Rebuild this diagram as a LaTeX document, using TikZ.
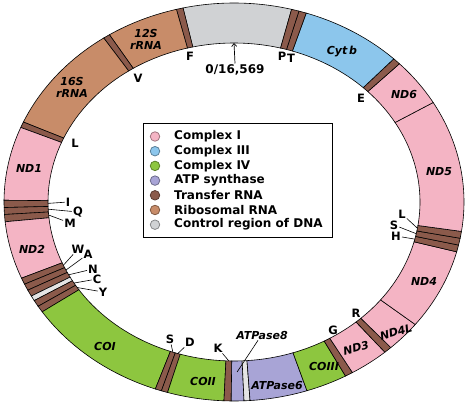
\documentclass[tikz,border=0pt]{standalone}
\usepackage{fontspec}
\setmainfont{DejaVu Sans}
\usetikzlibrary{arrows.meta}
\definecolor{cpink}{RGB}{244,180,196}
\definecolor{cblue}{RGB}{140,198,236}
\definecolor{cgreen}{RGB}{141,198,63}
\definecolor{cpurp}{RGB}{168,164,214}
\definecolor{ctrna}{RGB}{139,90,75}
\definecolor{crrna}{RGB}{200,140,105}
\definecolor{cgray}{RGB}{208,210,212}
\definecolor{clight}{RGB}{228,228,228}
\begin{document}
\begin{tikzpicture}[x=1pt,y=1pt,
  ringlbl/.style={font=\fontsize{11}{12}\selectfont\bfseries\itshape, inner sep=0pt, align=center},
  outlbl/.style={font=\fontsize{11.5}{12}\selectfont\bfseries, inner sep=1pt},
  leader/.style={line width=0.6pt, draw=black},
  legtxt/.style={font=\fontsize{12}{14}\selectfont\bfseries, anchor=west, inner sep=0pt},
  legdot/.style={circle, minimum size=9.5pt, inner sep=0pt, line width=0.8pt},
  segline/.style={draw=black, line width=0.6pt}
]
\useasboundingbox (0,0) rectangle (468,407);
\fill[white] (0,0) rectangle (468,407);
% ring segments: start/end parametric angle, colour
\foreach \s/\e/\c in {
  75.5/102.8/cgray, 102.8/104.5/ctrna, 104.5/122.8/crrna, 122.8/124.5/ctrna,
  124.5/156.3/crrna, 156.3/158.0/ctrna, 158.0/179.5/cpink, 179.5/181.6/ctrna,
  181.6/183.6/ctrna, 183.6/185.7/ctrna, 185.7/202.5/cpink, 202.5/204.4/ctrna,
  204.4/206.3/ctrna, 206.3/208.2/ctrna, 208.2/209.7/clight, 209.7/211.6/ctrna,
  211.6/213.5/ctrna, 213.5/250/cgreen, 250/251.6/ctrna, 251.6/253.2/ctrna,
  253.2/267.5/cgreen, 267.5/269.3/ctrna, 269.3/272.5/cpurp, 272.5/274/clight,
  274/288.5/cpurp, 288.5/299/cgreen, 299/301/ctrna, 301/311/cpink,
  311/313/ctrna, 313/322/cpink, 322/345.5/cpink, 345.5/347.5/ctrna,
  347.5/349.5/ctrna, 349.5/351.5/ctrna, 351.5/390/cpink, 390/404/cpink,
  404/406/ctrna, 406/431.7/cblue, 431.7/433.6/ctrna, 433.6/435.5/ctrna}
{
  \filldraw[fill=\c, segline]
    ({234+230*cos(\s)},{205+199*sin(\s)})
    arc[start angle=\s, end angle=\e, x radius=230, y radius=199]
    -- ({234+186*cos(\e)},{205+159*sin(\e)})
    arc[start angle=\e, end angle=\s, x radius=186, y radius=159]
    -- cycle;
}
% ring labels
\node[ringlbl] (r12s) at (146,368) {12S\\rRNA};
\node[ringlbl] (r16s) at (72,319.5) {16S\\rRNA};
\node[ringlbl] (nd1) at (29,239) {ND1};
\node[ringlbl] (nd2) at (32,158) {ND2};
\node[ringlbl] (coi) at (105,61) {COI};
\node[ringlbl] (coii) at (203,26) {COII};
\node[ringlbl] (atp6) at (277,21) {ATPase6};
\node[ringlbl] (coiii) at (324,41) {COIII};
\node[ringlbl, rotate=14] (nd3) at (356,59) {ND3};
\node[ringlbl, rotate=16] (nd4l) at (396,75) {ND4L};
\node[ringlbl] (nd4) at (424,126) {ND4};
\node[ringlbl] (nd5) at (439,235) {ND5};
\node[ringlbl] (nd6) at (404,312) {ND6};
\node[ringlbl] (cytb) at (342,355) {Cyt\,b};
% outer single-letter labels
\node[outlbl] (tF) at (190,351) {F};
\node[outlbl] (tV) at (138,329) {V};
\node[outlbl] (tL1) at (75,264) {L};
\node[outlbl] (tP) at (282,351) {P};
\node[outlbl] (tT) at (291,349) {T};
\node[outlbl] (tE) at (361,309) {E};
\node[outlbl] (tI) at (68,205) {I};
\node[outlbl] (tQ) at (78,195) {Q};
\node[outlbl] (tM) at (70,184) {M};
\node[outlbl] (tW) at (78,158) {W};
\node[outlbl] (tA) at (88,153) {A};
\node[outlbl] (tN) at (93,138) {N};
\node[outlbl] (tC) at (97,128) {C};
\node[outlbl] (tY) at (103,115) {Y};
\node[outlbl] (tS1) at (170,68) {S};
\node[outlbl] (tD) at (190,65) {D};
\node[outlbl] (tK) at (218,59) {K};
\node[outlbl] (tG) at (333,77) {G};
\node[outlbl] (tR) at (356,94) {R};
\node[outlbl] (tL2) at (402,193) {L};
\node[outlbl] (tS2) at (394,182) {S};
\node[outlbl] (tH) at (396,171) {H};
\node[ringlbl, inner sep=1pt] (atp8) at (262,72) {ATPase8};
\node[font=\fontsize{12}{13}\selectfont\bfseries, inner sep=1pt] (zero) at (235,337) {0/16,569};
% band points on the inner edge
\foreach \n/\a in {pI/180.5, pQ/182.6, pM/184.7, pW/203.45, pA/205.35, pN/207.25,
  pC/210.65, pY/212.55, pS1/250.8, pD/252.4, pK/268.4, pH/346.5, pS2/348.5, pL2/350.5, ptop/90}
  \coordinate (\n) at ({234+186*cos(\a)},{205+159*sin(\a)});
\coordinate (p8) at ({234+198*cos(270.9)},{205+170*sin(270.9)});
% leaders
\foreach \l/\p in {tI/pI, tQ/pQ, tM/pM, tW/pW, tA/pA, tN/pN, tC/pC, tY/pY,
  tS1/pS1, tD/pD, tK/pK, tH/pH, tS2/pS2, tL2/pL2}
  \draw[leader] (\l) -- (\p);
\draw[leader] ([xshift=-4pt]atp8.south) -- (p8);
\draw[line width=0.7pt, -{Straight Barb[length=3pt,width=5pt]}] (zero.north) -- (ptop);
% legend
\node[draw=black, line width=0.8pt, fill=white, minimum width=189pt, minimum height=114pt, inner sep=0pt] (legend) at (237.5,227) {};
\foreach \i/\c/\t in {0/cpink/Complex I, 1/cblue/Complex III, 2/cgreen/Complex IV,
  3/cpurp/ATP synthase, 4/ctrna/Transfer RNA, 5/crrna/Ribosomal RNA, 6/cgray/Control region of DNA}
{
  \node[legdot, fill=\c, draw=\c!65!black] (dot\i) at (155,{270.5-14.7*\i}) {};
  \node[legtxt] (leg\i) at (174,{270.5-14.7*\i}) {\t};
}
\end{tikzpicture}
\end{document}
